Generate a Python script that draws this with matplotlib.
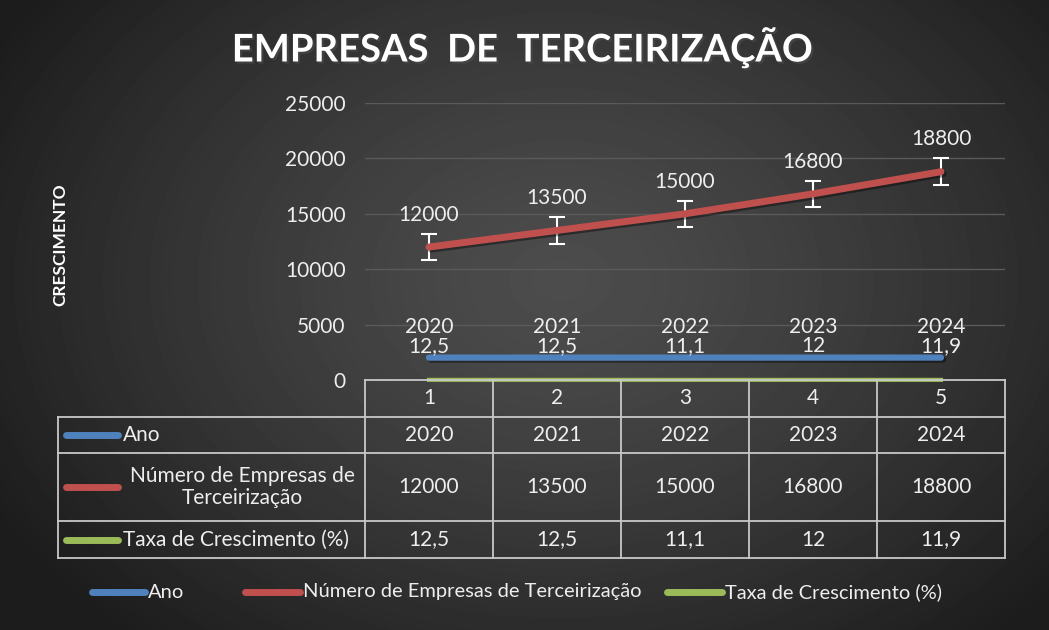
import numpy as np
import matplotlib.pyplot as plt
import matplotlib.patheffects as pe
from matplotlib.lines import Line2D

plt.rcParams['font.family'] = ['Lato', 'DejaVu Sans']

# data
categorias = [1, 2, 3, 4, 5]
anos = [2020, 2021, 2022, 2023, 2024]
empresas = [12000, 13500, 15000, 16800, 18800]
taxa = [12.5, 12.5, 11.1, 12, 11.9]
erro = [1200, 1200, 1200, 1200, 1200]
series = ['Ano', 'Número de Empresas de Terceirização', 'Taxa de Crescimento (%)']
cores = ['#4f81bd', '#c0504d', '#9bbb59']

def br(v):
    return ('%g' % v).replace('.', ',')

W, H = 1049, 630
fig = plt.figure(figsize=(W / 100, H / 100), dpi=100)

def fx(px):
    return px / W

def fy(py):
    return 1 - py / H

FS = 15
txt = '#eeeeee'

# background radial gradient
bg = fig.add_axes([0, 0, 1, 1], zorder=-10)
yy, xx = np.mgrid[0:H, 0:W]
r = np.sqrt(((xx - 560) / 650) ** 2 + ((yy - 280) / 480) ** 2)
shade = 0.30 - 0.19 * np.clip(r, 0, 1) ** 1.3
bg.imshow(shade, cmap='gray', vmin=0, vmax=1, extent=[0, 1, 0, 1],
          aspect='auto', origin='upper')
bg.axis('off')

# main plot
top, bot = 103, 380
ax = fig.add_axes([fx(365), fy(bot), fx(1005 - 365), (bot - top) / H])
ax.patch.set_visible(False)
ax.set_xlim(0.5, 5.5)
ax.set_ylim(0, 25000)
ax.set_yticks(range(0, 25001, 5000))
ax.set_xticks([])
for s in ax.spines.values():
    s.set_visible(False)
ax.tick_params(axis='y', length=0, pad=14, labelsize=FS, labelcolor=txt)
ax.grid(axis='y', color='#5a5a5a', lw=1)
ax.set_axisbelow(True)

shadow = [pe.SimpleLineShadow(offset=(1.5, -1.5), shadow_color='black', alpha=0.4), pe.Normal()]
ax.plot(categorias, anos, color=cores[0], lw=4.5, solid_capstyle='round', path_effects=shadow, zorder=3)
ax.errorbar(categorias, empresas, yerr=erro, fmt='none', ecolor='white',
            elinewidth=1.5, capsize=6, capthick=1.5, zorder=3)
ax.plot(categorias, empresas, color=cores[1], lw=5, solid_capstyle='round', path_effects=shadow, zorder=4)
ax.plot(categorias, taxa, color=cores[2], lw=3, clip_on=False, zorder=3)

for x, v in zip(categorias, empresas):
    ax.annotate(str(v), (x, v), xytext=(0, 16), textcoords='offset points',
                ha='center', va='bottom', color=txt, fontsize=FS)
for x, a, t in zip(categorias, anos, taxa):
    ax.annotate('%d\n%s' % (a, br(t)), (x, a), xytext=(0, 1), textcoords='offset points',
                ha='center', va='bottom', color=txt, fontsize=FS, linespacing=0.95)

# y label
fig.text(fx(60), fy(245), 'CRESCIMENTO', rotation=90, ha='center', va='center',
         color='white', fontsize=12.5, fontweight='bold')

# title
fig.text(fx(523), fy(47), 'EMPRESAS  DE  TERCEIRIZAÇÃO', ha='center', va='center',
         color='white', fontsize=27.5, fontweight='bold',
         path_effects=[pe.withSimplePatchShadow(offset=(1.5, -1.5), alpha=0.6)])

# data table
lc = '#c8c8c8'
cols = [58, 365, 493, 621, 749, 877, 1005]
rows = [bot, 417, 453, 521, 558]

def hline(y, x0, x1):
    fig.add_artist(Line2D([fx(x0), fx(x1)], [fy(y), fy(y)], color=lc, lw=1.3))

def vline(x, y0, y1):
    fig.add_artist(Line2D([fx(x), fx(x)], [fy(y0), fy(y1)], color=lc, lw=1.3))

hline(rows[0], cols[1], cols[-1])
for y in rows[1:]:
    hline(y, cols[0], cols[-1])
vline(cols[0], rows[1], rows[-1])
for x in cols[1:]:
    vline(x, rows[0], rows[-1])

def cy(i):
    return (rows[i] + rows[i + 1]) / 2

centros = [(cols[i] + cols[i + 1]) / 2 for i in range(1, 6)]
linhas = [[str(c) for c in categorias], [str(a) for a in anos],
          [str(e) for e in empresas], [br(t) for t in taxa]]
for i, vals in enumerate(linhas):
    for xc, v in zip(centros, vals):
        fig.text(fx(xc), fy(cy(i)), v, ha='center', va='center', color=txt, fontsize=FS)

rotulos = ['Ano', 'Número de Empresas de\nTerceirização', 'Taxa de Crescimento (%)']
for i, (lab, c) in enumerate(zip(rotulos, cores)):
    y = cy(i + 1)
    fig.add_artist(Line2D([fx(66), fx(118)], [fy(y), fy(y)], color=c, lw=5,
                          solid_capstyle='round'))
    if '\n' in lab:
        fig.text(fx(242), fy(y), lab, ha='center', va='center', color=txt,
                 fontsize=FS, multialignment='center', linespacing=1.15)
    else:
        fig.text(fx(123), fy(y), lab, ha='left', va='center', color=txt, fontsize=FS)

# bottom legend (Excel spacing)
leg_y = 592
leg_keys = [(92, 145), (245, 300), (667, 722)]
for (x0, x1), c, lab in zip(leg_keys, cores, series):
    fig.add_artist(Line2D([fx(x0), fx(x1)], [fy(leg_y), fy(leg_y)], color=c, lw=5,
                          solid_capstyle='round'))
    fig.text(fx(x1 + 3), fy(leg_y), lab, ha='left', va='center', color=txt, fontsize=14.5)

fig.savefig('out.png', dpi=100)
